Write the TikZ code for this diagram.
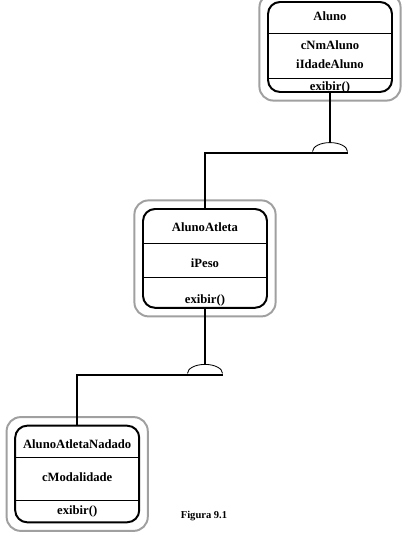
\documentclass[tikz,border=0pt]{standalone}
\usepackage{fontspec}
\setmainfont{Liberation Serif}
\usepackage{xcolor}
\usepackage{tikz}
\usetikzlibrary{positioning,fit,calc}
\definecolor{frame}{HTML}{A0A0A0}
\definecolor{edge}{HTML}{000000}

\begin{document}
\begin{tikzpicture}[
  font=\bfseries\fontsize{9}{11}\selectfont,
  cls/.style={draw=edge, line width=1.4pt, rounded corners=0.3cm, minimum width=3.1cm, inner sep=0pt},
  outer/.style={draw=frame, line width=1.4pt, rounded corners=0.35cm, inner sep=0.19cm},
  sep/.style={draw=edge, line width=0.7pt},
  link/.style={draw=edge, line width=1.4pt},
  hook/.style={draw=edge, line width=0.6pt},
  lbl/.style={inner sep=1pt}
]
\clip (0,0) rectangle (10.2,13.45);

% Classes
\node[cls, minimum height=2.25cm] (aluno) at (8.25,12.275) {};
\node[outer, fit=(aluno)] (aluno-frame) {};
\node[cls, minimum height=2.47cm] (atleta) at (5.125,6.99) {};
\node[outer, fit=(atleta)] (atleta-frame) {};
\node[cls, minimum height=2.415cm] (nadado) at (1.93,1.6) {};
\node[outer, fit=(nadado)] (nadado-frame) {};

% Aluno
\node[lbl] (aluno-name) at (aluno.north |- 0,13.05) {Aluno};
\draw[sep] (aluno.west |- 0,12.625) -- (aluno.east |- 0,12.625);
\node[lbl] (aluno-a1) at (aluno.north |- 0,12.325) {cNmAluno};
\node[lbl] (aluno-a2) at (aluno.north |- 0,11.85) {iIdadeAluno};
\draw[sep] (aluno.west |- 0,11.5) -- (aluno.east |- 0,11.5);
\node[lbl] (aluno-m1) at (aluno.north |- 0,11.26) {exibir()};

% AlunoAtleta
\node[lbl] (atleta-name) at (atleta.north |- 0,7.767) {AlunoAtleta};
\draw[sep] (atleta.west |- 0,7.367) -- (atleta.east |- 0,7.367);
\node[lbl] (atleta-a1) at (atleta.north |- 0,6.867) {iPeso};
\draw[sep] (atleta.west |- 0,6.51) -- (atleta.east |- 0,6.51);
\node[lbl] (atleta-m1) at (atleta.north |- 0,5.93) {exibir()};

% AlunoAtletaNadado
\node[lbl] (nadado-name) at (nadado.north |- 0,2.342) {AlunoAtletaNadado};
\draw[sep] (nadado.west |- 0,2.008) -- (nadado.east |- 0,2.008);
\node[lbl] (nadado-a1) at (nadado.north |- 0,1.533) {cModalidade};
\draw[sep] (nadado.west |- 0,0.933) -- (nadado.east |- 0,0.933);
\node[lbl] (nadado-m1) at (nadado.north |- 0,0.66) {exibir()};

% Inheritance links
\coordinate (base1) at (aluno.south |- 0,9.66);
\draw[link] (aluno.south) -- ($(base1)+(0,0.225)$);
\draw[hook] ($(base1)+(-0.4375,0)$) arc[start angle=180, end angle=0, x radius=0.4375, y radius=0.225];
\draw[link] ($(base1)+(0.4375,-0.035)$) -| (atleta.north);

\coordinate (base2) at (atleta.south |- 0,4.115);
\draw[link] (atleta.south) -- ($(base2)+(0,0.225)$);
\draw[hook] ($(base2)+(-0.4375,0)$) arc[start angle=180, end angle=0, x radius=0.4375, y radius=0.225];
\draw[link] ($(base2)+(0.4375,-0.04)$) -| (nadado.north);

% Caption
\node[font=\bfseries\fontsize{7.5}{9}\selectfont] (caption) at (5.1,0.55) {Figura 9.1};
\end{tikzpicture}
\end{document}
